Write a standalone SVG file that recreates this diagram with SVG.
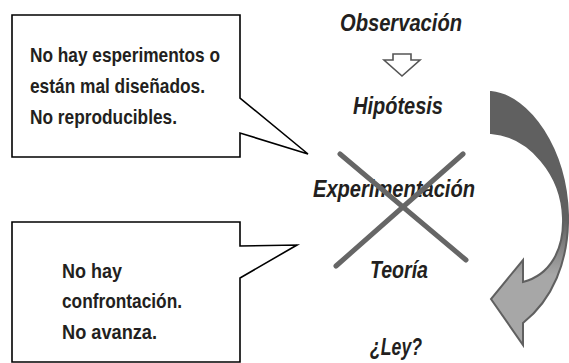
<svg xmlns="http://www.w3.org/2000/svg" width="569" height="363" viewBox="0 0 569 363">
<style>
.call{fill:#fff;stroke:#000;stroke-width:1.6;stroke-linejoin:miter}
.ct{font-family:"Liberation Sans",Arial,sans-serif;font-weight:bold;font-size:21px;fill:#231f20}
.st{font-family:"Liberation Sans",Arial,sans-serif;font-weight:bold;font-style:italic;font-size:23px;fill:#231f20;text-anchor:middle}
.cross{stroke:#666;stroke-width:5;stroke-linecap:round}
</style>
<defs>
<linearGradient id="g" gradientUnits="userSpaceOnUse" x1="0" y1="220" x2="0" y2="275">
<stop offset="0" stop-color="#606060"/>
<stop offset="1" stop-color="#a7a7a7"/>
</linearGradient>
</defs>
<g id="callout1">
<path class="call" d="M12,15 H240 V98 L308,154 L240,133 V157 H12 Z"/>
<text class="ct" x="30" y="62" textLength="190" lengthAdjust="spacingAndGlyphs">No hay esperimentos o</text>
<text class="ct" x="30" y="93" textLength="175" lengthAdjust="spacingAndGlyphs">están mal diseñados.</text>
<text class="ct" x="30" y="124" textLength="147" lengthAdjust="spacingAndGlyphs">No reproducibles.</text>
</g>
<g id="callout2">
<path class="call" d="M12,222 H240 V246 L297,245 L240,278 V362 H12 Z"/>
<text class="ct" x="62" y="278" textLength="60" lengthAdjust="spacingAndGlyphs">No hay</text>
<text class="ct" x="62" y="308" textLength="120" lengthAdjust="spacingAndGlyphs">confrontación.</text>
<text class="ct" x="62" y="339" textLength="95" lengthAdjust="spacingAndGlyphs">No avanza.</text>
</g>
<g id="observacion"><text class="st" x="401" y="31" textLength="122" lengthAdjust="spacingAndGlyphs">Observación</text></g>
<g id="hipotesis"><text class="st" x="398" y="114" textLength="90" lengthAdjust="spacingAndGlyphs">Hipótesis</text></g>
<g id="experimentacion"><text class="st" x="394" y="197" textLength="162" lengthAdjust="spacingAndGlyphs">Experimentación</text></g>
<g id="teoria"><text class="st" x="399" y="278" textLength="58" lengthAdjust="spacingAndGlyphs">Teoría</text></g>
<g id="ley"><text class="st" x="396" y="355" textLength="52" lengthAdjust="spacingAndGlyphs">¿Ley?</text></g>
<g id="connectors">
<path d="M393,54 H411 V60 H420 L402,76 L384,60 H393 Z" fill="#fff" stroke="#555" stroke-width="1.6" stroke-linejoin="miter"/>
<line class="cross" x1="340" y1="154" x2="466" y2="260"/>
<line class="cross" x1="463" y1="154" x2="336" y2="266"/>
<path d="M491,92 C530,96 566,150 568,215 C569,262 552,300 523,323 L523,345 L491,299 L523,260 L523,282 C550,275 564,250 563,218 C562,175 530,136 491,133 Z" fill="url(#g)" stroke="#606060" stroke-width="2" stroke-linejoin="miter"/>
</g>
</svg>
